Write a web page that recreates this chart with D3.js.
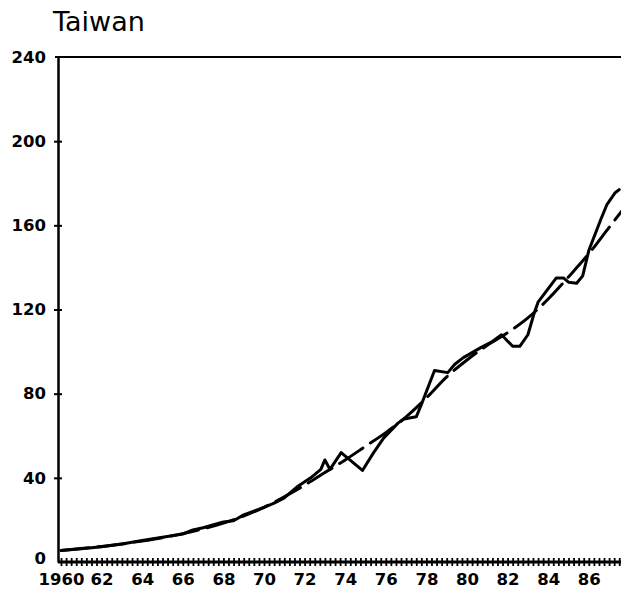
<!DOCTYPE html>
<html>
<head>
<meta charset="utf-8">
<script src="https://cdn.jsdelivr.net/npm/d3@7"></script>
<style>
  html, body { margin: 0; padding: 0; background: #fff; }
  svg { display: block; }
</style>
</head>
<body>
<svg id="chart" width="621" height="589"></svg>
<script>
// ---- data ----
const title = "Taiwan";
const yTicks = [0, 40, 80, 120, 160, 200, 240];
const xLabelYears = [1960, 1962, 1964, 1966, 1968, 1970, 1972, 1974, 1976, 1978, 1980, 1982, 1984, 1986];
const xLabels = ["1960", "62", "64", "66", "68", "70", "72", "74", "76", "78", "80", "82", "84", "86"];

const actualYears = [1960.0, 1961.0, 1962.0, 1963.0, 1964.0, 1965.0, 1966.0, 1966.5, 1967.0, 1968.0, 1968.5, 1969.0,
  1970.0, 1970.5, 1971.0, 1971.6, 1972.3, 1972.8, 1973.0, 1973.25, 1973.8, 1974.85, 1975.4, 1975.9, 1976.6,
  1976.9, 1977.5, 1977.8, 1978.4, 1979.05, 1979.4, 1979.8, 1980.7, 1981.2, 1981.7, 1982.25, 1982.6, 1983.0,
  1983.3, 1983.5, 1984.4, 1984.75, 1985.0, 1985.4, 1985.7, 1986.0, 1986.6, 1986.9, 1987.3, 1987.5];
const actualValues = [5.5, 6.3, 7.3, 8.6, 10.2, 11.8, 13.3, 15.2, 16.3, 19.0, 19.6, 22.4,
  26.0, 28.0, 30.5, 35.5, 40.0, 44.0, 48.5, 44.0, 52.0, 43.5, 52.0, 59.0, 66.0,
  68.0, 69.0, 76.0, 91.0, 90.0, 94.0, 97.0, 102.0, 104.5, 108.0, 102.5, 102.5, 108.0,
  118.0, 123.5, 135.0, 135.0, 133.0, 132.5, 136.0, 148.0, 163.0, 170.0, 175.5, 177.0];

const trendYears = [1960, 1962, 1964, 1966, 1968, 1970, 1971, 1972, 1973, 1974, 1975, 1976, 1977, 1978,
  1979, 1980, 1981, 1982, 1983, 1984, 1985, 1986, 1987, 1987.6];
const trendValues = [5.5, 7.4, 10.0, 13.5, 18.5, 26.0, 31.0, 36.5, 42.5, 48.5, 55.0, 61.5, 69.0, 78.0,
  88.0, 96.0, 103.0, 109.0, 116.0, 125.0, 135.5, 146.5, 159.0, 166.5];

// ---- layout ----
const svg = d3.select("#chart");
const W = 621, H = 589;
const x0 = 58, yTop = 57, yBase = 562;
const labelFont = "DejaVu Sans, Verdana, sans-serif";

const x = d3.scaleLinear().domain([1960, 1988]).range([61, 61 + 28 * 20.3]);
const y = d3.scaleLinear().domain([0, 240]).range([yBase, yTop]);

// title
svg.append("text")
  .attr("x", 53).attr("y", 31)
  .attr("font-family", labelFont)
  .attr("font-size", 27)
  .attr("fill", "#000")
  .text(title);

// top frame line
svg.append("line")
  .attr("x1", x0 - 3).attr("x2", W)
  .attr("y1", y(240)).attr("y2", y(240))
  .attr("stroke", "#000").attr("stroke-width", 2);

// y axis
const yAxis = d3.axisLeft(y).tickValues(yTicks).tickSize(0).tickPadding(12).tickFormat(d3.format("d"));
const gy = svg.append("g").attr("transform", `translate(${x0},0)`).call(yAxis);
gy.select(".domain").attr("stroke", "#000").attr("stroke-width", 2.5);
gy.selectAll("text")
  .attr("font-family", labelFont)
  .attr("font-weight", "bold")
  .attr("font-size", 16.5)
  .attr("fill", "#000");
gy.selectAll(".tick").filter(d => d === 0).select("text").attr("dy", "0.1em");

// crossing ticks on y axis
const yTickAxis = d3.axisLeft(y).tickValues(yTicks.filter(d => d > 0 && d < 240)).tickSize(8).tickFormat("");
const gyt = svg.append("g").attr("transform", `translate(${x0 + 4},0)`).call(yTickAxis);
gyt.select(".domain").remove();
gyt.selectAll("line").attr("stroke", "#000").attr("stroke-width", 2);

// x axis with quarterly crossing ticks
const quarters = d3.range(0, 28 * 4 + 1).map(i => 1960 + i / 4);
const xTickAxis = d3.axisBottom(x).tickValues(quarters).tickSize(8).tickFormat("");
const gxt = svg.append("g").attr("transform", `translate(0,${yBase - 4})`).call(xTickAxis);
gxt.select(".domain").remove();
gxt.selectAll("line").attr("stroke", "#000").attr("stroke-width", 1.8);

svg.append("line")
  .attr("x1", x0).attr("x2", W)
  .attr("y1", yBase).attr("y2", yBase)
  .attr("stroke", "#000").attr("stroke-width", 3);

const xLabelAxis = d3.axisBottom(x).tickValues(xLabelYears).tickSize(0).tickPadding(11)
  .tickFormat((d, i) => xLabels[i]);
const gx = svg.append("g").attr("transform", `translate(0,${yBase})`).call(xLabelAxis);
gx.select(".domain").remove();
gx.selectAll("text")
  .attr("font-family", labelFont)
  .attr("font-weight", "bold")
  .attr("font-size", 16.5)
  .attr("fill", "#000");

// lines
const actual = actualYears.map((d, i) => ({ t: d, v: actualValues[i] }));
const trend = trendYears.map((d, i) => ({ t: d, v: trendValues[i] }));

const lineLin = d3.line().x(d => x(d.t)).y(d => y(d.v));
const lineSmooth = d3.line().x(d => x(d.t)).y(d => y(d.v)).curve(d3.curveMonotoneX);

svg.append("path")
  .datum(trend)
  .attr("d", lineSmooth)
  .attr("fill", "none")
  .attr("stroke", "#000")
  .attr("stroke-width", 3)
  .attr("stroke-dasharray", "28,9")
  .attr("stroke-linecap", "round");

svg.append("path")
  .datum(actual)
  .attr("d", lineLin)
  .attr("fill", "none")
  .attr("stroke", "#000")
  .attr("stroke-width", 3)
  .attr("stroke-linejoin", "round")
  .attr("stroke-linecap", "round");
</script>
</body>
</html>
